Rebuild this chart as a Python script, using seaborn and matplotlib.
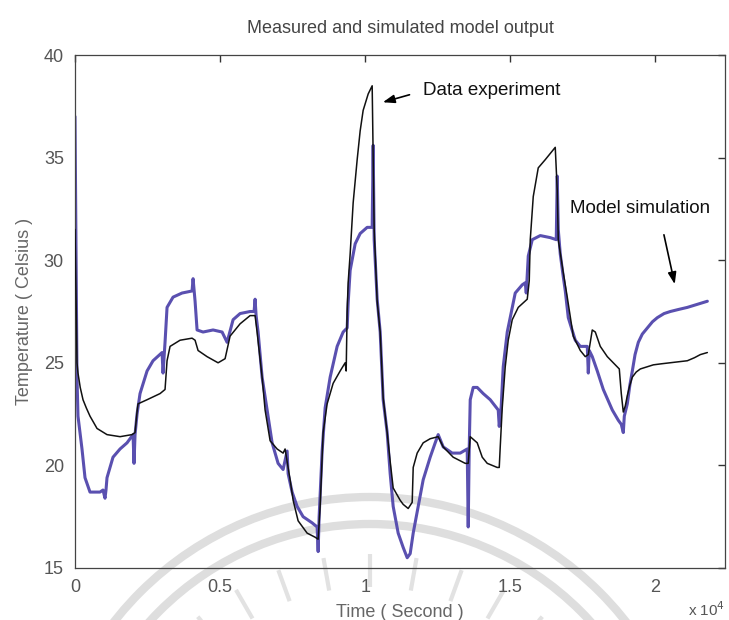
import numpy as np
import pandas as pd
import matplotlib
matplotlib.use("Agg")
import matplotlib.pyplot as plt
from matplotlib.patches import Arc
from matplotlib.ticker import FuncFormatter, FixedLocator
import seaborn as sns

# Measured temperature (black trace)
t_meas = [0, 34, 69, 103, 180, 276, 390, 517, 759, 1103, 1552, 1965, 2069, 2138,
          2172, 2483, 2931, 3103, 3172, 3276, 3620, 4034, 4138, 4241, 4551, 4931,
          5172, 5344, 5689, 6034, 6206, 6275, 6448, 6551, 6724, 6965, 7172, 7240,
          7275, 7413, 7517, 7689, 7999, 8275, 8379, 8448, 8551, 8689, 8896, 9137,
          9310, 9345, 9379, 9413, 9482, 9586, 9724, 9827, 9930, 10103, 10241,
          10310, 10413, 10517, 10620, 10758, 10861, 10965, 11206, 11310, 11482,
          11620, 11655, 11792, 11999, 12240, 12516, 12689, 13033, 13447, 13551,
          13620, 13861, 14034, 14206, 14551, 14620, 14654, 14723, 14826, 14930,
          15068, 15275, 15585, 15654, 15689, 15792, 15964, 16206, 16378, 16550,
          16619, 16654, 16826, 16964, 17171, 17413, 17585, 17689, 17826, 17930,
          18102, 18344, 18551, 18757, 18826, 18895, 18964, 19033, 19120, 19206,
          19340, 19482, 19700, 19930, 20200, 20516, 20800, 21102, 21350, 21550,
          21792]
temp_meas = [31.5, 28.5, 25.0, 24.5, 23.8, 23.2, 22.8, 22.4, 21.8, 21.5, 21.4, 21.5,
             21.6, 22.6, 23.0, 23.2, 23.5, 23.7, 25.1, 25.8, 26.1, 26.2, 26.1, 25.6,
             25.3, 25.0, 25.2, 26.3, 26.9, 27.3, 27.3, 26.5, 24.3, 22.7, 21.2, 20.8,
             20.6, 20.8, 20.5, 19.3, 18.3, 17.3, 16.7, 16.5, 16.4, 18.0, 21.6, 23.0,
             24.0, 24.6, 25.0, 24.6, 27.5, 28.9, 30.3, 32.8, 34.9, 36.3, 37.3, 38.1,
             38.5, 31.5, 28.0, 26.5, 23.3, 21.6, 20.2, 18.9, 18.3, 18.1, 17.9, 18.2,
             19.9, 20.6, 21.1, 21.3, 21.4, 20.9, 20.4, 20.1, 20.1, 21.4, 21.1, 20.4,
             20.1, 19.9, 19.9, 20.9, 22.8, 24.8, 26.1, 27.1, 27.7, 28.1, 29.0, 31.0,
             33.1, 34.5, 34.9, 35.2, 35.5, 33.4, 31.0, 29.4, 28.2, 26.3, 25.6, 25.3,
             25.4, 26.6, 26.5, 25.8, 25.3, 25.0, 24.7, 23.5, 22.6, 22.9, 23.4, 23.9,
             24.3, 24.55, 24.7, 24.8, 24.9, 24.95, 25.0, 25.05, 25.1, 25.25, 25.4,
             25.5]

# Simulated temperature (blue trace)
t_sim = [0, 34, 69, 103, 241, 345, 517, 690, 862, 965, 1034, 1068, 1103, 1310, 1552,
         1793, 2000, 2034, 2069, 2138, 2241, 2483, 2689, 3000, 3034, 3103, 3172,
         3379, 3689, 4034, 4069, 4138, 4207, 4413, 4758, 5069, 5241, 5448, 5689,
         6034, 6172, 6206, 6241, 6310, 6448, 6620, 6793, 6999, 7172, 7310, 7344,
         7482, 7655, 7861, 8172, 8344, 8379, 8413, 8517, 8620, 8793, 9034, 9241,
         9379, 9413, 9482, 9655, 9827, 10068, 10241, 10275, 10310, 10413, 10517,
         10620, 10758, 10861, 10965, 11137, 11310, 11448, 11551, 11655, 11827,
         11999, 12240, 12413, 12516, 12689, 12999, 13275, 13516, 13551, 13585,
         13620, 13723, 13861, 14068, 14310, 14585, 14620, 14689, 14757, 14896,
         15068, 15171, 15413, 15516, 15551, 15620, 15758, 16034, 16378, 16585,
         16619, 16654, 16723, 16826, 16896, 16999, 17240, 17413, 17654, 17689,
         17723, 17826, 17999, 18206, 18516, 18723, 18826, 18895, 18930, 19033,
         19120, 19206, 19300, 19413, 19550, 19723, 19900, 20068, 20300, 20516,
         20800, 21102, 21450, 21792]
temp_sim = [37.0, 31.0, 24.3, 22.4, 20.8, 19.4, 18.7, 18.7, 18.7, 18.8, 18.4, 18.8,
            19.4, 20.4, 20.8, 21.1, 21.5, 20.1, 21.5, 22.5, 23.5, 24.6, 25.1, 25.5,
            24.5, 26.0, 27.7, 28.2, 28.4, 28.5, 29.1, 28.0, 26.6, 26.5, 26.6, 26.5,
            26.0, 27.1, 27.4, 27.5, 27.5, 28.1, 27.3, 26.5, 24.3, 22.7, 21.1, 20.1,
            19.8, 20.7, 19.6, 18.7, 18.0, 17.5, 17.2, 17.0, 15.8, 17.5, 20.7, 22.8,
            24.3, 25.8, 26.5, 26.7, 27.9, 29.5, 30.8, 31.3, 31.6, 31.6, 35.6, 31.0,
            28.1, 26.5, 23.2, 21.6, 19.6, 18.0, 16.7, 16.0, 15.5, 15.7, 16.7, 18.0,
            19.3, 20.4, 21.1, 21.5, 20.9, 20.6, 20.6, 20.8, 17.0, 20.8, 23.2, 23.8,
            23.8, 23.5, 23.2, 22.7, 21.9, 22.9, 24.8, 26.5, 27.7, 28.4, 28.8, 28.9,
            28.4, 30.2, 31.0, 31.2, 31.1, 31.0, 34.1, 31.5, 30.3, 29.2, 28.5, 27.2,
            26.1, 25.8, 25.8, 24.5, 25.6, 25.3, 24.6, 23.7, 22.7, 22.2, 22.0, 21.6,
            22.4, 23.0, 23.9, 24.6, 25.4, 26.0, 26.4, 26.7, 27.0, 27.2, 27.4, 27.5,
            27.6, 27.7, 27.85, 28.0]

x_ticks = [0, 5000, 10000, 15000, 20000]
y_ticks = [15, 20, 25, 30, 35, 40]

meas = pd.DataFrame({"t": t_meas, "temp": temp_meas})
sim = pd.DataFrame({"t": t_sim, "temp": temp_sim})

sns.set_style("white")
plt.rcParams["font.family"] = ["Liberation Sans", "DejaVu Sans"]

DPI = 100
fig = plt.figure(figsize=(7.29, 6.20), dpi=DPI)

# Faint circular seal printed behind the plot
bg = fig.add_axes([0, 0, 1, 1], zorder=0)
bg.set_xlim(0, 729)
bg.set_ylim(620, 0)
bg.axis("off")
for r in (325, 298):
    bg.add_patch(Arc((370, 822), 2 * r, 2 * r, theta1=180, theta2=360,
                     color="#dedede", lw=6))
for ang in np.linspace(200, 340, 15):
    a = np.deg2rad(ang)
    r0, r1 = 235, 268
    bg.plot([370 + r0 * np.cos(a), 370 + r1 * np.cos(a)],
            [822 + r0 * np.sin(a), 822 + r1 * np.sin(a)],
            color="#e2e2e2", lw=3, solid_capstyle="butt")

ax = fig.add_axes([75 / 729, 52 / 620, 650 / 729, 513 / 620], zorder=1)
ax.patch.set_alpha(0)

sns.lineplot(data=meas, x="t", y="temp", ax=ax, sort=False, estimator=None,
             color="#111111", lw=1.1, zorder=3)
sns.lineplot(data=sim, x="t", y="temp", ax=ax, sort=False, estimator=None,
             color="#5a50b0", lw=2.2, zorder=2)

ax.set_xlim(0, 22400)
ax.set_ylim(15, 40)
ax.xaxis.set_major_locator(FixedLocator(x_ticks))
ax.yaxis.set_major_locator(FixedLocator(y_ticks))
ax.xaxis.set_major_formatter(FuncFormatter(lambda v, p: f"{v / 1e4:g}"))
ax.tick_params(direction="in", length=5, width=1, colors="#333333",
               labelcolor="#555555", labelsize=13, top=True, right=True,
               pad=8)
for s in ax.spines.values():
    s.set_color("#444444")
    s.set_linewidth(0.9)

ax.set_title("Measured and simulated model output", fontsize=13,
             color="#444444", pad=16)
ax.set_xlabel("Time ( Second )", fontsize=13, color="#666666", labelpad=6)
ax.set_ylabel("Temperature ( Celsius )", fontsize=13, color="#666666",
              labelpad=8)

fig.text(688 / 729, 1 - 610 / 620, "x 10$^4$", fontsize=11, color="#555555",
         ha="left", va="center")

# Callouts
ax.annotate("", xy=(10517, 37.66), xytext=(11620, 38.1),
            arrowprops=dict(arrowstyle="-|>,head_length=0.7,head_width=0.25",
                            color="black", lw=1.2))
ax.text(12000, 38.25, "Data experiment", fontsize=13.5, color="#111111",
        ha="left", va="center")
ax.annotate("", xy=(20688, 28.7), xytext=(20275, 31.37),
            arrowprops=dict(arrowstyle="-|>,head_length=0.7,head_width=0.25",
                            color="black", lw=1.2))
ax.text(17068, 32.54, "Model simulation", fontsize=13.5, color="#111111",
        ha="left", va="center")

fig.savefig("out.png", dpi=DPI)
